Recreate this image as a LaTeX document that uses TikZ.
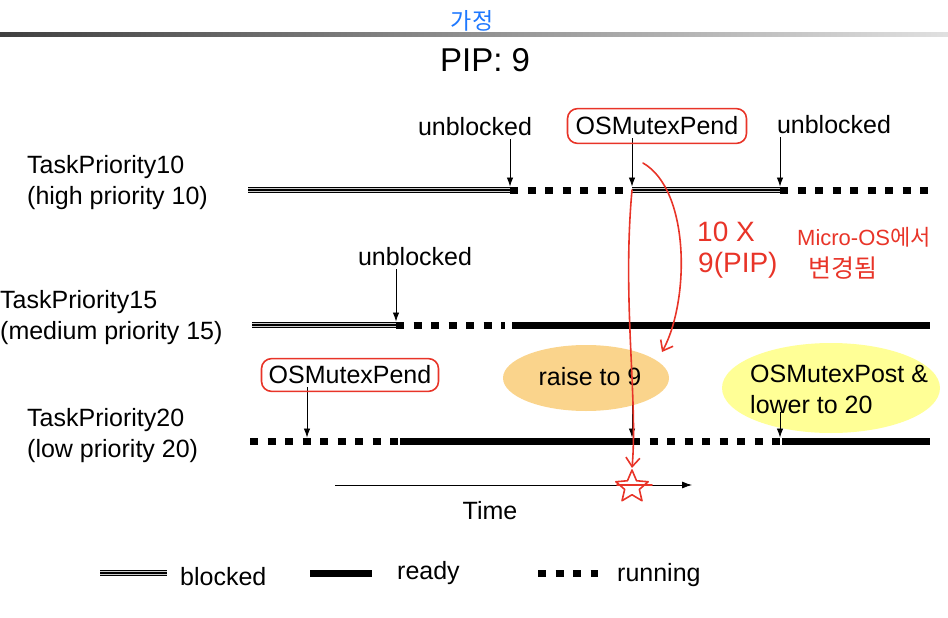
\documentclass[tikz,border=0pt]{standalone}
\usepackage{fontspec}
\setmainfont{Liberation Sans}
\newfontfamily\krfont{Noto Sans CJK KR}
\usetikzlibrary{arrows.meta,positioning,shapes.geometric,fit}

\definecolor{raiseorange}{RGB}{250,212,140}
\definecolor{postyellow}{RGB}{255,255,150}
\definecolor{penred}{RGB}{232,52,40}
\definecolor{penblue}{RGB}{30,120,255}

\tikzset{
  blocked/.style={line width=6.5pt,draw=black,
    postaction={draw=gray!40,line width=4.3pt},
    postaction={draw=black,line width=1.3pt}},
  ready/.style={line width=7pt},
  running/.style={line width=7pt,dash pattern=on 8pt off 9.5pt},
  evt/.style={-{Latex[length=9pt,width=6.5pt]},line width=0.8pt,shorten <=3pt,shorten >=3.5pt},
  lbl/.style={inner sep=0pt,font=\fontsize{25}{31}\selectfont},
  pen/.style={draw=penred,line width=1.6pt,line cap=round,line join=round},
  pentext/.style={inner sep=0pt,anchor=west,text=penred,font=\fontsize{28}{32}\selectfont}
}

\begin{document}
\begin{tikzpicture}[x=1pt,y={(0pt,-1pt)}]
  \useasboundingbox (0,0) rectangle (948,618);
  \shade[left color=black!75,right color=black!12] (0,33) rectangle (948,37);
  \node[font=\fontsize{33}{40}\selectfont] (title) at (485,60) {PIP: 9};
  \node[font=\krfont\fontsize{23}{26}\selectfont,text=penblue] (note) at (472,21) {가정};

  % task names
  \node[lbl,anchor=west,align=left] (t10) at (27,183) {TaskPriority10\\(high priority 10)};
  \node[lbl,anchor=west,align=left] (t15) at (0,318) {TaskPriority15\\(medium priority 15)};
  \node[lbl,anchor=west,align=left] (t20) at (27,436) {TaskPriority20\\(low priority 20)};

  % time points on each line
  \coordinate (a10) at (248,190); \coordinate (b10) at (510,190); \coordinate (c10) at (632,190);
  \coordinate (d10) at (780,190); \coordinate (e10) at (930,190);
  \coordinate (a15) at (252,325); \coordinate (b15) at (396,325); \coordinate (c15) at (505,325);
  \coordinate (d15) at (512,325); \coordinate (e15) at (930,325);
  \coordinate (a20) at (250,441); \coordinate (b20) at (400,441); \coordinate (c20) at (632,441);
  \coordinate (d20) at (780,441); \coordinate (e20) at (930,441);
  \coordinate (p20) at (307,441);

  \draw[blocked] (a10) -- (b10);
  \draw[running] (b10) -- (c10);
  \draw[blocked] (c10) -- (d10);
  \draw[running] (d10) -- (e10);
  \draw[blocked] (a15) -- (b15);
  \draw[running] (b15) -- (c15);
  \draw[ready] (d15) -- (e15);
  \draw[running] (a20) -- (b20);
  \draw[ready] (b20) -- (c20);
  \draw[running] (c20) -- (d20);
  \draw[ready] ([xshift=2pt]d20) -- (e20);

  % events
  \node[ellipse,fill=raiseorange,minimum width=166pt,minimum height=66pt] (raisebg) at (586,378) {};
  \node[ellipse,fill=postyellow,minimum width=218pt,minimum height=90pt] (postbg) at (831,388) {};
  \node[lbl] (ub10) at (475,127) {unblocked};
  \node[lbl] (pend10) at (657,126) {OSMutexPend};
  \node[lbl] (ub10b) at (834,125) {unblocked};
  \node[lbl] (ub15) at (415,257) {unblocked};
  \node[lbl] (pend20) at (350,375) {OSMutexPend};
  \node[lbl] (raise) at (590,377) {raise to 9};
  \node[lbl,anchor=west,align=left] (post) at (750,389) {OSMutexPost \&\\lower to 20};
  \draw[evt] (ub10.south -| b10) -- (b10);
  \draw[evt] (pend10.south -| c10) -- (c10);
  \draw[evt] (ub10b.south -| d10) -- (d10);
  \draw[evt] (ub15.south -| b15) -- (b15);
  \draw[evt] (pend20.south -| p20) -- (p20);
  \draw[evt,shorten <=8pt] (raise.south -| c20) -- (c20);
  \draw[evt,shorten <=-2pt] (post.south -| d20) -- (d20);

  \coordinate (t0) at (335,485); \coordinate (t1) at (692,485);
  \draw[-{Latex[length=10pt,width=7pt]},line width=0.8pt] (t0) -- (t1);
  \node[lbl] (time) at (490,511) {Time};

  % legend
  \coordinate (l1) at (100,573); \coordinate (l2) at (167,573);
  \coordinate (l3) at (310,573); \coordinate (l4) at (372,573);
  \coordinate (l5) at (538,573); \coordinate (l6) at (598,573);
  \draw[blocked] (l1) -- (l2);
  \draw[ready] (l3) -- (l4);
  \draw[running] (l5) -- (l6);
  \node[lbl,anchor=west] (kb) at (180,577) {blocked};
  \node[lbl,anchor=west] (kr) at (397,573) {ready};
  \node[lbl,anchor=west] (kn) at (617,575) {running};

  % handwritten notes
  \node[pen,rounded corners=10pt,inner sep=8pt,fit=(pend10)] (box10) {};
  \node[pen,rounded corners=10pt,inner sep=7pt,fit=(pend20)] (box20) {};
  \node[star,star points=5,star point ratio=2.2,pen,minimum size=34pt] (mark) at (632,487) {};
  \draw[pen] (617,485) -- (652,485);
  \coordinate (hook) at (643,163);
  \coordinate (hit) at (662,352);
  \draw[pen,-{Straight Barb[length=9pt,width=14pt]}] (c10) .. controls (622,300) and (638,400) .. (mark.north);
  \draw[pen,-{Straight Barb[length=9pt,width=14pt]}] (hook) .. controls (690,190) and (690,300) .. (hit);
  \node[pentext] (n1) at (697,232) {10 X};
  \node[pentext] (n2) at (698,265) {9(PIP)};
  \node[pentext,font=\fontsize{22}{26}\selectfont] (n3) at (797,237) {Micro-OS{\krfont 에서}};
  \node[pentext,font=\krfont\fontsize{25}{28}\selectfont] (n4) at (808,268) {변경됨};
\end{tikzpicture}
\end{document}
